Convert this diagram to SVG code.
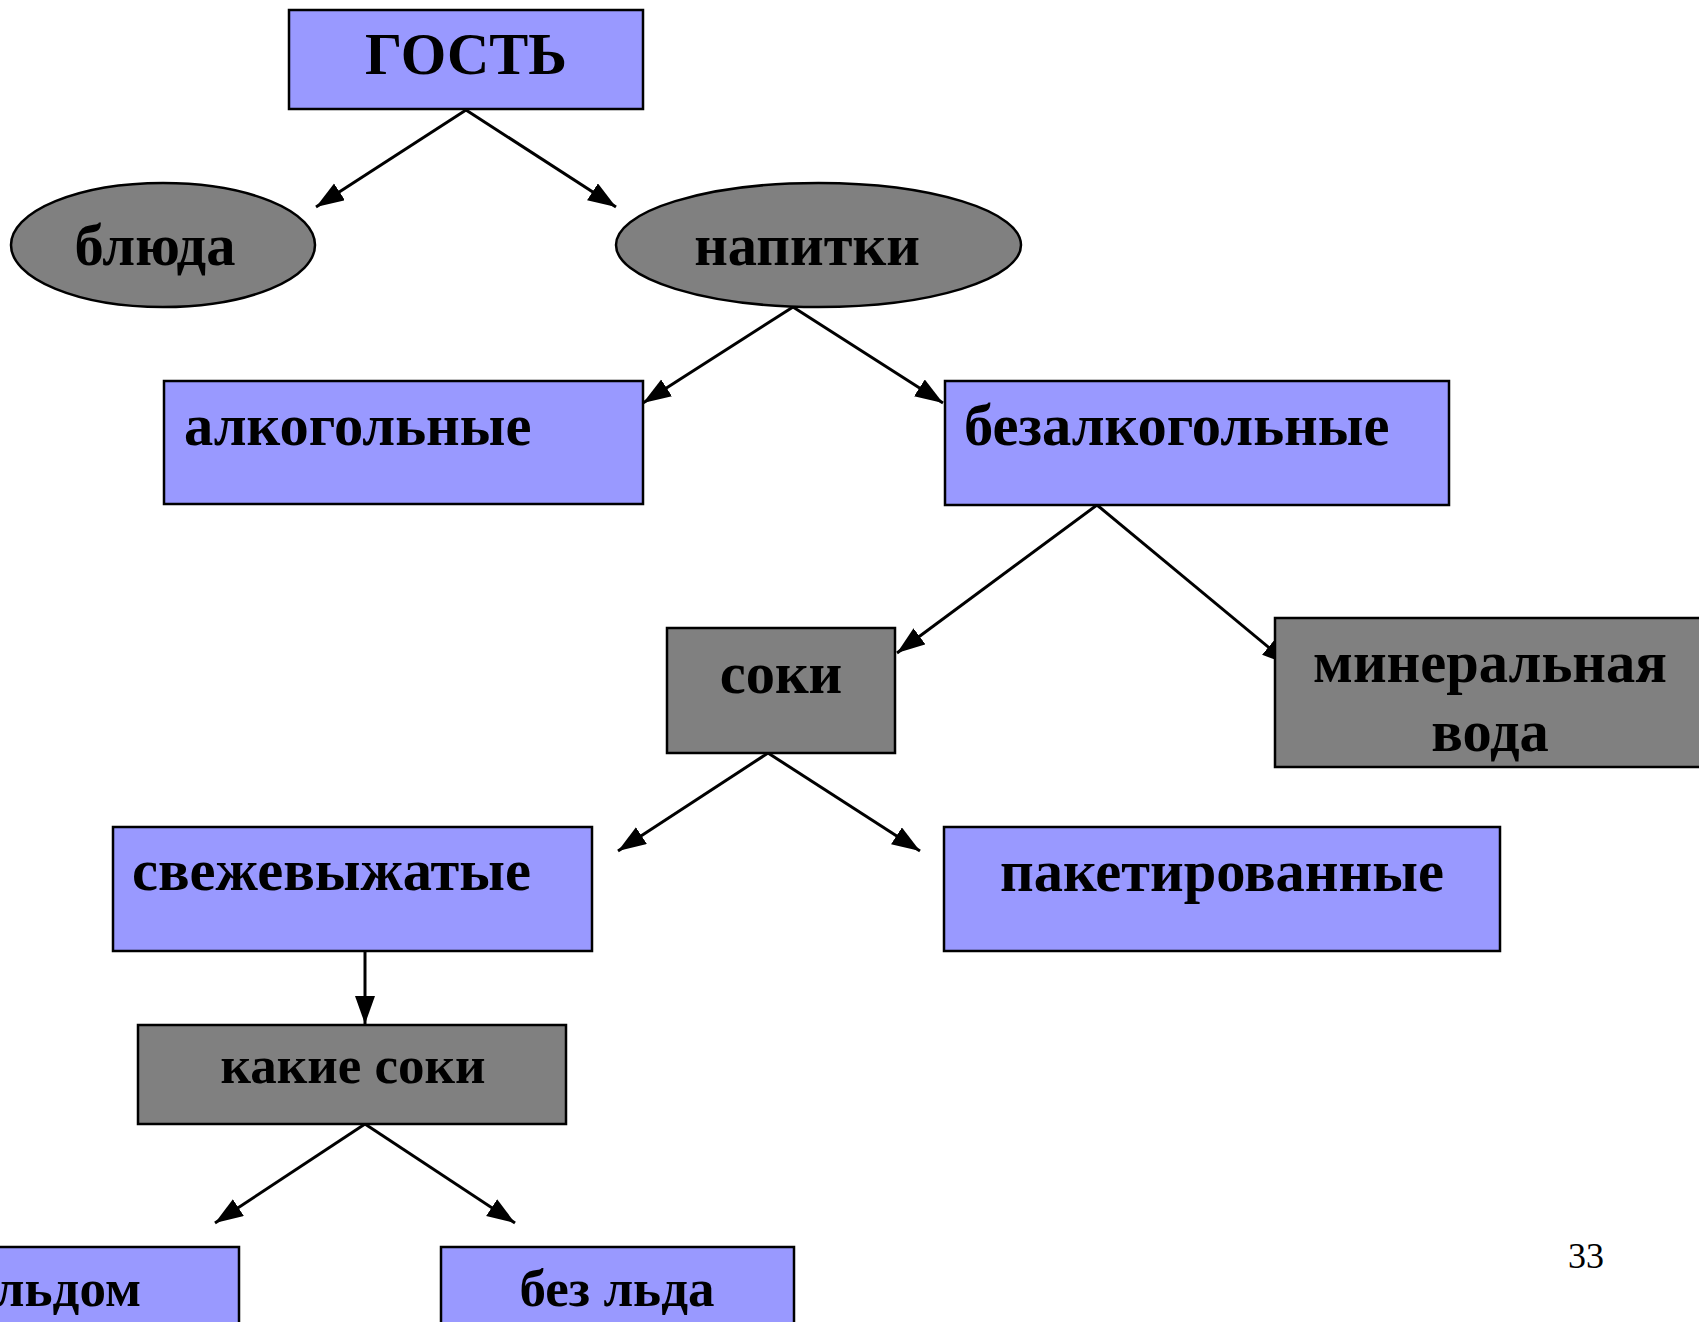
<svg xmlns="http://www.w3.org/2000/svg" width="1699" height="1322" viewBox="0 0 1699 1322">
<style>
.b{fill:#9999FF;stroke:#000;stroke-width:2.5}
.g{fill:#808080;stroke:#000;stroke-width:2.5}
.t{font-family:"Liberation Serif","Times New Roman",serif;font-weight:bold;font-size:58.5px;fill:#000}
.s{font-size:53px}
.m{text-anchor:middle}
.c{stroke:#000;stroke-width:3;fill:none;marker-end:url(#ah)}
</style>
<defs>
<marker id="ah" markerUnits="userSpaceOnUse" markerWidth="30" markerHeight="22" refX="28" refY="10" orient="auto">
<path d="M0,0 L28,10 L0,20 z" fill="#000"/>
</marker>
</defs>
<rect width="1699" height="1322" fill="#fff"/>
<g id="connectors">
<line class="c" x1="466" y1="110" x2="316" y2="207"/>
<line class="c" x1="466" y1="110" x2="616" y2="207"/>
<line class="c" x1="793" y1="307" x2="643" y2="403"/>
<line class="c" x1="793" y1="307" x2="943" y2="403"/>
<line class="c" x1="1097" y1="505" x2="897" y2="653"/>
<line class="c" x1="1097" y1="505" x2="1290" y2="665"/>
<line class="c" x1="768" y1="753" x2="618" y2="851"/>
<line class="c" x1="768" y1="753" x2="920" y2="851"/>
<line class="c" x1="365" y1="951" x2="365" y2="1024"/>
<line class="c" x1="365" y1="1124" x2="215" y2="1223"/>
<line class="c" x1="365" y1="1124" x2="515" y2="1223"/>
</g>
<g id="gost">
<rect class="b" x="289" y="10" width="354" height="99"/>
<text class="t m" x="466" y="74">ГОСТЬ</text>
</g>
<g id="bliuda">
<ellipse class="g" cx="163" cy="245" rx="152" ry="62"/>
<text class="t m" x="155" y="265">блюда</text>
</g>
<g id="napitki">
<ellipse class="g" cx="818.5" cy="245" rx="202.5" ry="62"/>
<text class="t m" x="807" y="265">напитки</text>
</g>
<g id="alko">
<rect class="b" x="164" y="381" width="479" height="123"/>
<text class="t" x="184" y="445">алкогольные</text>
</g>
<g id="bezalko">
<rect class="b" x="945" y="381" width="504" height="124"/>
<text class="t" x="964" y="445">безалкогольные</text>
</g>
<g id="soki">
<rect class="g" x="667" y="628" width="228" height="125"/>
<text class="t m" x="781" y="693">соки</text>
</g>
<g id="mineral">
<rect class="g" x="1275" y="618" width="430" height="149"/>
<text class="t m" x="1490" y="682">минеральная</text>
<text class="t m" x="1490" y="751">вода</text>
</g>
<g id="svezh">
<rect class="b" x="113" y="827" width="479" height="124"/>
<text class="t" x="132" y="890">свежевыжатые</text>
</g>
<g id="paket">
<rect class="b" x="944" y="827" width="556" height="124"/>
<text class="t m" x="1222" y="891">пакетированные</text>
</g>
<g id="kakie">
<rect class="g" x="138" y="1025" width="428" height="99"/>
<text class="t s m" x="353" y="1083">какие соки</text>
</g>
<g id="sldom">
<rect class="b" x="-20" y="1247" width="259" height="90"/>
<text class="t s" x="141" y="1306" text-anchor="end">льдом</text>
</g>
<g id="bezlda">
<rect class="b" x="441" y="1247" width="353" height="90"/>
<text class="t s m" x="617" y="1306">без льда</text>
</g>
<text x="1586" y="1268" font-family="Liberation Serif, Times New Roman, serif" font-size="36" text-anchor="middle">33</text>
</svg>
